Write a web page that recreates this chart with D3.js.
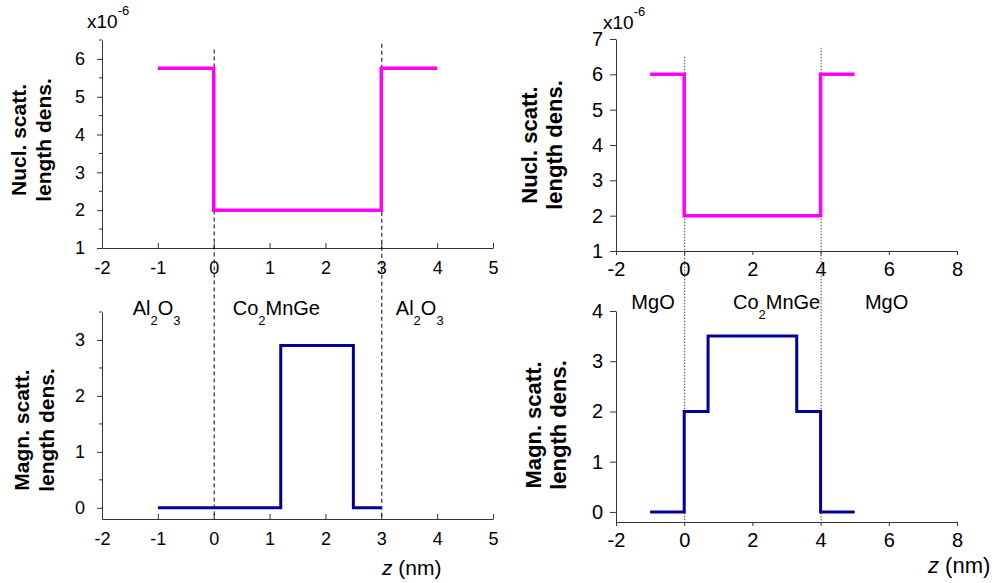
<!DOCTYPE html>
<html lang="en">
<head>
    <meta charset="UTF-8">
    <title>scattering length density profiles</title>
    <script src="https://cdn.jsdelivr.net/npm/d3@7"></script>
    <style>
        body { margin: 0; background: #fff; }
        svg text { font-family: "Liberation Sans", Arial, sans-serif; fill: #000; }
        .axis path, .axis line { stroke: #333; }
    </style>
</head>
<body>
<div id="chart"></div>
<script>
    // step profiles: z (nm) of each step start, value of the step
    const nuclAlZ = [-1, 0, 3, 4];
    const nuclAlVal = [5.75, 2, 5.75, 5.75];
    const magnAlZ = [-1, 1.2, 2.5, 3];
    const magnAlVal = [0, 2.9, 0, 0];
    const nuclMgZ = [-1, 0, 4, 5];
    const nuclMgVal = [6, 2, 6, 6];
    const magnMgZ = [-1, 0, 0.7, 3.3, 4, 5];
    const magnMgVal = [0, 2, 3.5, 2, 0, 0];

    // interfaces and layer names
    const alInterfaces = [0, 3];
    const mgInterfaces = [0, 4];
    const alLayers = [["Al", "2", "O", "3"], ["Co", "2", "MnGe", ""], ["Al", "2", "O", "3"]];
    const alLayerZ = [-1.45, 0.34, 3.26];
    const mgLayers = [["MgO", "", "", ""], ["Co", "2", "MnGe", ""], ["MgO", "", "", ""]];
    const mgLayerZ = [-1.55, 1.43, 5.3];

    const leftXTicks = [-2, -1, 0, 1, 2, 3, 4, 5];
    const rightXTicks = [-2, 0, 2, 4, 6, 8];
    const nuclAlTicks = [1, 2, 3, 4, 5, 6];
    const nuclAlMinor = [1.5, 2.5, 3.5, 4.5, 5.5, 6.5];
    const magnAlTicks = [0, 1, 2, 3];
    const magnAlMinor = [0.5, 1.5, 2.5, 3.5];
    const nuclMgTicks = [1, 2, 3, 4, 5, 6, 7];
    const magnMgTicks = [0, 1, 2, 3, 4];

    const pink = "#ff00ff", navy = "#000099";

    let svg = d3.select("#chart").append("svg")
        .attr("width", 994)
        .attr("height", 583);

    // scales
    let xL = d3.scaleLinear().domain([-2, 5]).range([102, 493]);
    let xR = d3.scaleLinear().domain([-2, 8]).range([616, 957]);
    let yTL = d3.scaleLinear().domain([1, 6.5]).range([248, 40]);
    let yBL = d3.scaleLinear().domain([-0.2, 3.5]).range([519, 312]);
    let yTR = d3.scaleLinear().domain([1, 7]).range([251, 39]);
    let yBR = d3.scaleLinear().domain([-0.2, 4]).range([522, 311]);

    // plain hyphen for negatives, like the original plot
    let fmt = d => String(d);

    function drawAxes(x, y, xTicks, yTicks, yMinor, inwardX, big) {
        let fs = big ? 20 : 18;
        let xa = d3.axisBottom(x).tickValues(xTicks).tickSizeOuter(0).tickFormat(fmt);
        if (inwardX) xa.tickSizeInner(-5).tickPadding(13);
        else xa.tickSizeInner(4).tickPadding(7);
        let gx = svg.append("g").attr("class", "axis")
            .attr("transform", "translate(0," + y.range()[0] + ")")
            .call(xa);
        gx.selectAll("text").style("font-size", fs + "px")
            .style("font-family", "'Liberation Sans', Arial, sans-serif").attr("fill", "#000");

        let ya = d3.axisLeft(y).tickValues(yTicks).tickSizeOuter(0)
            .tickSizeInner(big ? 6 : 5).tickPadding(big ? 7 : 12)
            .tickFormat(fmt);
        let gy = svg.append("g").attr("class", "axis")
            .attr("transform", "translate(" + x.range()[0] + ",0)")
            .call(ya);
        gy.selectAll("text").style("font-size", fs + "px")
            .style("font-family", "'Liberation Sans', Arial, sans-serif").attr("fill", "#000");
        if (yMinor) {
            gy.selectAll(".minor").data(yMinor).enter().append("line")
                .attr("class", "minor")
                .attr("x1", -3).attr("x2", 0)
                .attr("y1", d => y(d)).attr("y2", d => y(d))
                .attr("stroke", "#333");
        }
    }

    function drawInterfaces(x, zs, yTop, yBot, tops, dash, color) {
        svg.append("g").selectAll("line").data(zs).enter().append("line")
            .attr("x1", d => x(d) + 0.5).attr("x2", d => x(d) + 0.5)
            .attr("y1", (d, i) => yTop(tops[i])).attr("y2", yBot(yBot.domain()[0]))
            .attr("stroke", color)
            .attr("stroke-width", 1)
            .attr("stroke-dasharray", dash);
    }

    function drawStep(x, y, zs, vals, color, w) {
        let pts = zs.map((z, i) => [z, vals[i]]);
        let line = d3.line().x(d => x(d[0])).y(d => y(d[1])).curve(d3.curveStepAfter);
        svg.append("path").datum(pts)
            .attr("d", line)
            .attr("fill", "none")
            .attr("stroke", color)
            .attr("stroke-width", w);
    }

    function yTitle(cx, cy, lines, size) {
        let t = svg.append("text")
            .attr("transform", "translate(" + cx + "," + cy + ") rotate(-90)")
            .attr("text-anchor", "middle")
            .style("font-size", size + "px")
            .style("font-weight", "bold");
        lines.forEach((l, i) => {
            t.append("tspan").attr("x", 0).attr("y", i * 25).text(l);
        });
    }

    function factor(x0, y0) {
        let t = svg.append("text").attr("x", x0).attr("y", y0).style("font-size", "19px");
        t.append("tspan").text("x10");
        t.append("tspan").attr("dy", -13).style("font-size", "13px").text("-6");
    }

    function layerLabels(x, y, names, zs, v) {
        names.forEach((n, i) => {
            let t = svg.append("text")
                .attr("x", x(zs[i])).attr("y", y(v))
                .style("font-size", "20px");
            t.append("tspan").text(n[0]);
            if (n[1]) t.append("tspan").attr("dy", 10).style("font-size", "13px").text(n[1]);
            if (n[2]) t.append("tspan").attr("dy", n[1] ? -10 : 0).text(n[2]);
            if (n[3]) t.append("tspan").attr("dy", 10).style("font-size", "13px").text(n[3]);
        });
    }

    function zLabel(x0, y0, size) {
        let t = svg.append("text").attr("x", x0).attr("y", y0).style("font-size", size + "px");
        t.append("tspan").style("font-style", "italic").text("z");
        t.append("tspan").text(" (nm)");
    }

    // left column: Al2O3 / Co2MnGe / Al2O3
    drawAxes(xL, yTL, leftXTicks, nuclAlTicks, nuclAlMinor, true, false);
    drawAxes(xL, yBL, leftXTicks, magnAlTicks, magnAlMinor, true, false);
    drawInterfaces(xL, alInterfaces, yTL, yBL, [6.25, 6.4], "4,3", "#000");
    drawStep(xL, yTL, nuclAlZ, nuclAlVal, pink, 3.5);
    drawStep(xL, yBL, magnAlZ, magnAlVal, navy, 3);
    yTitle(26, 140, ["Nucl. scatt.", "length dens."], 21);
    yTitle(29, 430, ["Magn. scatt.", "length dens."], 21);
    factor(87, 28);
    layerLabels(xL, yBL, alLayers, alLayerZ, 3.44);
    zLabel(382, 575, 21);

    // right column: MgO / Co2MnGe / MgO
    drawAxes(xR, yTR, rightXTicks, nuclMgTicks, null, false, true);
    drawAxes(xR, yBR, rightXTicks, magnMgTicks, null, false, true);
    drawInterfaces(xR, mgInterfaces, yTR, yBR, [6.5, 6.75], "1.5,1.5", "#444");
    drawStep(xR, yTR, nuclMgZ, nuclMgVal, pink, 3.5);
    drawStep(xR, yBR, magnMgZ, magnMgVal, navy, 3);
    yTitle(537, 145, ["Nucl. scatt.", "length dens."], 22);
    yTitle(541, 425, ["Magn. scatt.", "length dens."], 22);
    factor(603, 29);
    layerLabels(xR, yBR, mgLayers, mgLayerZ, 4.04);
    zLabel(928, 573, 22);
</script>
</body>
</html>
